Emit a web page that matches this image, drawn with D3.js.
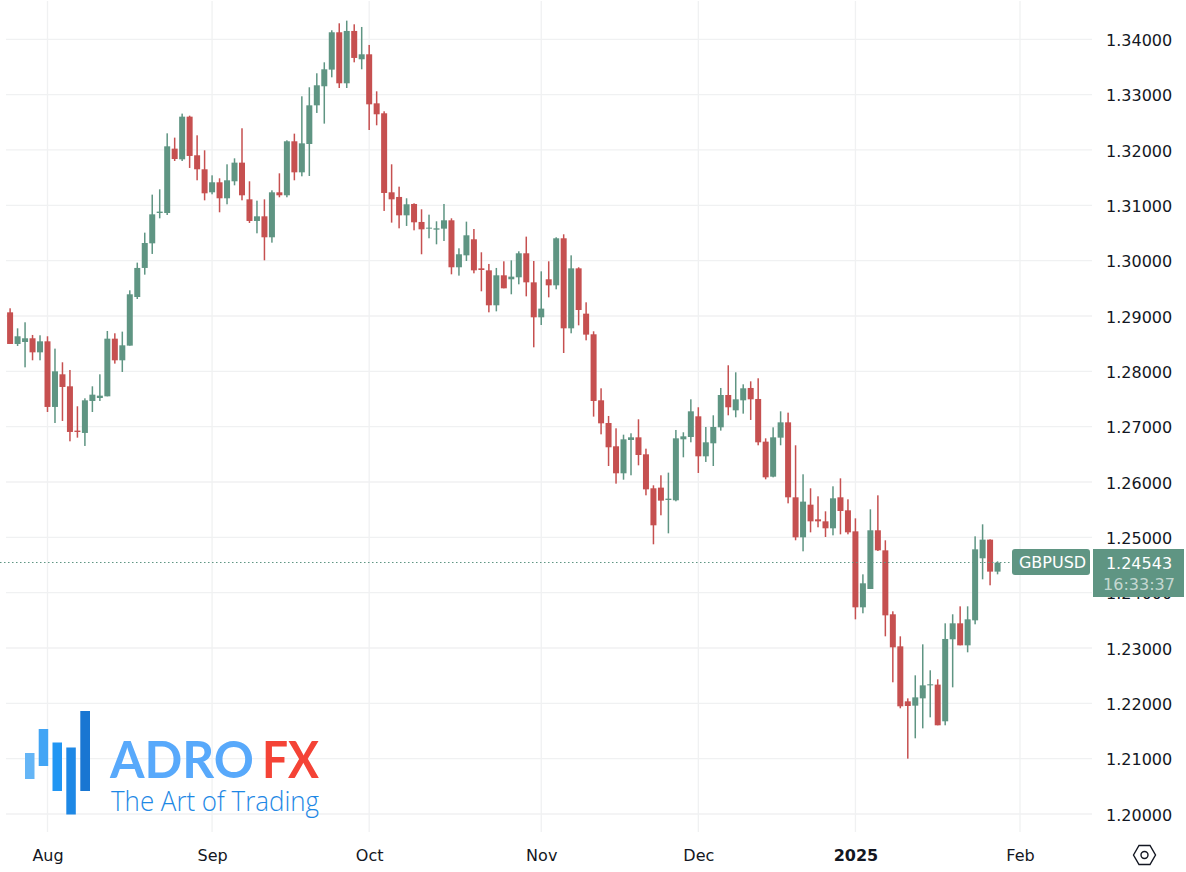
<!DOCTYPE html>
<html>
<head>
<meta charset="utf-8">
<script src="https://cdn.jsdelivr.net/npm/d3@7"></script>
<style>
  html, body { margin: 0; padding: 0; background: #fff; }
  svg { display: block; }
  .axis text { font-family: "DejaVu Sans", sans-serif; font-size: 16px; fill: #131722; }
  .axis path, .axis line { display: none; }
</style>
</head>
<body>
<svg id="chart" width="1186" height="872"></svg>
<script>
// daily GBPUSD candles
let opens = [
  1.29066, 1.28494, 1.28530, 1.28597, 1.28343, 1.28542, 1.27356, 1.27946, 1.27729, 1.26928,
  1.26886, 1.27464, 1.27518, 1.27548, 1.28590, 1.28199, 1.28464, 1.29343, 1.29868, 1.30313,
  1.30861, 1.30861, 1.32024, 1.31831, 1.32602, 1.31904, 1.31651, 1.31235, 1.31416, 1.31127,
  1.31434, 1.31771, 1.31108, 1.30717, 1.30801, 1.30422, 1.31235, 1.31181, 1.32157, 1.31596,
  1.32108, 1.32807, 1.33151, 1.33452, 1.34127, 1.33205, 1.34151, 1.33639, 1.33729, 1.32843,
  1.32663, 1.31235, 1.31151, 1.30819, 1.31024, 1.30699, 1.30578, 1.30560, 1.30578, 1.30729,
  1.29880, 1.30096, 1.30386, 1.29861, 1.29825, 1.29193, 1.29735, 1.29663, 1.29699, 1.30133,
  1.29608, 1.28976, 1.29663, 1.29554, 1.30404, 1.28777, 1.29861, 1.29042, 1.28669, 1.27476,
  1.27066, 1.26645, 1.26157, 1.26759, 1.26807, 1.26500, 1.25886, 1.25898, 1.25675, 1.25669,
  1.26771, 1.26813, 1.27187, 1.26464, 1.26699, 1.26988, 1.27572, 1.27295, 1.27476, 1.27699,
  1.27500, 1.26729, 1.26096, 1.26801, 1.27078, 1.25723, 1.25000, 1.25590, 1.25325, 1.25289,
  1.25163, 1.25723, 1.25488, 1.25108, 1.23735, 1.24066, 1.25127, 1.24765, 1.23609, 1.23030,
  1.22036, 1.21958, 1.22090, 1.22325, 1.22338, 1.21675, 1.23157, 1.23446, 1.23048, 1.23500,
  1.24621, 1.24958, 1.24380
];
let highs = [
  1.29139, 1.28777, 1.28886, 1.28657, 1.28651, 1.28633, 1.28410, 1.28163, 1.28024, 1.27368,
  1.27512, 1.27729, 1.27946, 1.28729, 1.28687, 1.28717, 1.29464, 1.29964, 1.30506, 1.31193,
  1.31289, 1.32301, 1.32223, 1.32657, 1.32620, 1.32265, 1.31994, 1.31542, 1.31488, 1.31741,
  1.31849, 1.32392, 1.31434, 1.31084, 1.31108, 1.31271, 1.31578, 1.32175, 1.32295, 1.32970,
  1.33133, 1.33386, 1.33584, 1.34163, 1.34289, 1.34337, 1.34271, 1.34223, 1.33898, 1.33060,
  1.32699, 1.31741, 1.31337, 1.31127, 1.31036, 1.30928, 1.30831, 1.30711, 1.31024, 1.30765,
  1.30223, 1.30705, 1.30572, 1.30151, 1.29940, 1.29868, 1.29988, 1.30006, 1.30169, 1.30434,
  1.29994, 1.29807, 1.29988, 1.30422, 1.30476, 1.30096, 1.29880, 1.29247, 1.28723, 1.27693,
  1.27193, 1.26970, 1.26855, 1.26880, 1.27133, 1.26602, 1.25940, 1.26121, 1.26169, 1.26940,
  1.26898, 1.27494, 1.27350, 1.26994, 1.27205, 1.27699, 1.28109, 1.27982, 1.27765, 1.27819,
  1.27874, 1.26789, 1.26988, 1.27277, 1.27253, 1.26663, 1.26139, 1.25886, 1.25741, 1.25470,
  1.25922, 1.26066, 1.25687, 1.25343, 1.24331, 1.25506, 1.25759, 1.24946, 1.23663, 1.23211,
  1.22090, 1.22506, 1.23066, 1.22597, 1.22434, 1.23446, 1.23609, 1.23753, 1.23753, 1.25018,
  1.25235, 1.24964, 1.24566
];
let lows = [
  1.28494, 1.28458, 1.28072, 1.28199, 1.28199, 1.27265, 1.27066, 1.27103, 1.26735, 1.26801,
  1.26651, 1.27265, 1.27464, 1.27548, 1.28139, 1.27988, 1.28464, 1.29307, 1.29747, 1.30121,
  1.30765, 1.30825, 1.31801, 1.31801, 1.31675, 1.31452, 1.31090, 1.31199, 1.30874, 1.31018,
  1.31361, 1.31090, 1.30681, 1.30494, 1.30006, 1.30325, 1.31145, 1.31145, 1.31452, 1.31524,
  1.31530, 1.32669, 1.32476, 1.33313, 1.33120, 1.33120, 1.33584, 1.33458, 1.32361, 1.32446,
  1.30898, 1.30687, 1.30584, 1.30627, 1.30548, 1.30115, 1.30404, 1.30295, 1.30355, 1.29753,
  1.29729, 1.29994, 1.29771, 1.29446, 1.29066, 1.29084, 1.29500, 1.29392, 1.29572, 1.29355,
  1.28434, 1.28837, 1.29337, 1.29482, 1.28331, 1.28687, 1.28831, 1.28560, 1.27181, 1.26861,
  1.26289, 1.25970, 1.26042, 1.26121, 1.26301, 1.25759, 1.24874, 1.25398, 1.25072, 1.25651,
  1.26446, 1.26717, 1.26163, 1.26362, 1.26289, 1.26928, 1.27205, 1.27169, 1.27235, 1.27121,
  1.26663, 1.26048, 1.26084, 1.26663, 1.25614, 1.24946, 1.24747, 1.25090, 1.25181, 1.25006,
  1.25036, 1.25054, 1.25054, 1.23518, 1.23627, 1.24066, 1.24753, 1.23211, 1.22380, 1.21910,
  1.21000, 1.21368, 1.21548, 1.21747, 1.21603, 1.21603, 1.22289, 1.23048, 1.22922, 1.23428,
  1.24241, 1.24133, 1.24331
];
let closes = [
  1.28494, 1.28633, 1.28597, 1.28343, 1.28542, 1.27356, 1.28000, 1.27717, 1.26904, 1.26904,
  1.27476, 1.27578, 1.27560, 1.28590, 1.28199, 1.28470, 1.29392, 1.29868, 1.30319, 1.30837,
  1.30886, 1.32066, 1.31837, 1.32602, 1.31892, 1.31651, 1.31217, 1.31416, 1.31127, 1.31452,
  1.31771, 1.31181, 1.30717, 1.30801, 1.30422, 1.31235, 1.31181, 1.32157, 1.31596, 1.32120,
  1.32807, 1.33169, 1.33458, 1.34127, 1.33205, 1.34151, 1.33663, 1.33729, 1.32825, 1.32645,
  1.31223, 1.31108, 1.30819, 1.31018, 1.30693, 1.30566, 1.30596, 1.30584, 1.30729, 1.29880,
  1.30115, 1.30458, 1.29825, 1.29831, 1.29193, 1.29735, 1.29500, 1.29711, 1.30133, 1.29608,
  1.28976, 1.29133, 1.29554, 1.30404, 1.28777, 1.29861, 1.29108, 1.28663, 1.27464, 1.27060,
  1.26627, 1.26157, 1.26771, 1.26807, 1.26488, 1.25867, 1.25217, 1.25663, 1.25699, 1.26789,
  1.26825, 1.27277, 1.26464, 1.26717, 1.26994, 1.27572, 1.27350, 1.27494, 1.27693, 1.27494,
  1.26717, 1.26084, 1.26807, 1.27078, 1.25723, 1.25000, 1.25645, 1.25289, 1.25289, 1.25163,
  1.25705, 1.25476, 1.25090, 1.23735, 1.24169, 1.25127, 1.24765, 1.23590, 1.23012, 1.21946,
  1.21952, 1.22108, 1.22325, 1.22344, 1.21603, 1.23163, 1.23446, 1.23048, 1.23518, 1.24783,
  1.24958, 1.24380, 1.24543
];

let price_ticks = [1.2, 1.21, 1.22, 1.23, 1.24, 1.25, 1.26, 1.27, 1.28, 1.29, 1.3, 1.31, 1.32, 1.33, 1.34];
let month_labels = ["Aug", "Sep", "Oct", "Nov", "Dec", "2025", "Feb"];
let month_bars = [5, 27, 48, 71, 92, 113, 135]; // bar number where each month starts
let symbol = "GBPUSD";
let last_price = 1.24543;
let countdown = "16:33:37";

let up_color = "#5f9583";
let down_color = "#c65050";
let grid_color = "#f0f1f2";

let svg = d3.select("#chart");

let x = d3.scaleLinear().domain([5, 135]).range([47.5, 1020]);
let y = d3.scaleLinear().domain([1.2, 1.34]).range([814, 39.3]);

// grid
let grid = svg.append("g").attr("stroke", grid_color).attr("stroke-width", 1.3);
grid
  .selectAll(".h")
  .data(price_ticks)
  .enter()
  .append("line")
  .attr("x1", 6)
  .attr("x2", 1092)
  .attr("y1", (d) => y(d))
  .attr("y2", (d) => y(d));
grid
  .selectAll(".v")
  .data(month_bars)
  .enter()
  .append("line")
  .attr("x1", (d) => x(d))
  .attr("x2", (d) => x(d))
  .attr("y1", 1)
  .attr("y2", 832);

// logo sits under the candles
let logo = svg.append("g");
let logo_bars = [
  [25, 753, 9.5, 26, "#64b5f6"],
  [38.7, 729, 9.5, 37, "#42a5f5"],
  [52.5, 742.5, 9.5, 48.5, "#2196f3"],
  [66.3, 747.5, 9.5, 67, "#1e88e5"],
  [80.3, 711, 9.7, 80, "#1976d2"],
];
logo
  .selectAll("rect")
  .data(logo_bars)
  .enter()
  .append("rect")
  .attr("x", (d) => d[0])
  .attr("y", (d) => d[1])
  .attr("width", (d) => d[2])
  .attr("height", (d) => d[3])
  .attr("fill", (d) => d[4]);
logo
  .append("text")
  .attr("x", 110)
  .attr("y", 778)
  .attr("textLength", 144)
  .attr("lengthAdjust", "spacingAndGlyphs")
  .style("font-family", "Lato, sans-serif")
  .style("font-weight", 700)
  .style("font-size", "52px")
  .attr("fill", "#58a9fb")
  .text("ADRO");
logo
  .append("text")
  .attr("x", 262)
  .attr("y", 778)
  .attr("textLength", 57)
  .attr("lengthAdjust", "spacingAndGlyphs")
  .style("font-family", "Lato, sans-serif")
  .style("font-weight", 700)
  .style("font-size", "52px")
  .attr("fill", "#f44336")
  .text("FX");
logo
  .append("text")
  .attr("x", 111)
  .attr("y", 811)
  .attr("textLength", 208)
  .attr("lengthAdjust", "spacingAndGlyphs")
  .style("font-family", "'Open Sans', sans-serif")
  .style("font-weight", 300)
  .style("font-size", "27px")
  .attr("fill", "#1e88e5")
  .text("The Art of Trading");

// candles
let candles = svg
  .append("g")
  .selectAll("g")
  .data(opens.map((d, i) => i))
  .enter()
  .append("g")
  .attr("fill", (i) => (closes[i] >= opens[i] ? up_color : down_color));

candles
  .append("rect")
  .attr("x", (i) => x(i) - 0.75)
  .attr("width", 1.5)
  .attr("y", (i) => y(highs[i]))
  .attr("height", (i) => y(lows[i]) - y(highs[i]));

candles
  .append("rect")
  .attr("x", (i) => x(i) - 3)
  .attr("width", 6)
  .attr("y", (i) => y(Math.max(opens[i], closes[i])))
  .attr("height", (i) => Math.max(1, Math.abs(y(opens[i]) - y(closes[i]))));

// last price line
svg
  .append("line")
  .attr("x1", 0)
  .attr("x2", 1012)
  .attr("y1", Math.floor(y(last_price)) + 0.5)
  .attr("y2", Math.floor(y(last_price)) + 0.5)
  .attr("stroke", up_color)
  .attr("stroke-width", 1.2)
  .attr("stroke-dasharray", "1.5 2.5");

// axes
svg
  .append("g")
  .attr("class", "axis")
  .attr("transform", "translate(1106,1)")
  .call(d3.axisRight(y).tickValues(price_ticks).tickFormat(d3.format(".5f")).tickSize(0).tickPadding(0));

let month_axis = d3
  .axisBottom(x)
  .tickValues(month_bars)
  .tickFormat((d, i) => month_labels[i])
  .tickSize(0)
  .tickPadding(0);
svg
  .append("g")
  .attr("class", "axis")
  .attr("transform", "translate(0,849.5)")
  .call(month_axis)
  .selectAll("text")
  .style("font-weight", (d, i) => (month_labels[i] === "2025" ? 700 : 400));

// symbol and price labels
svg
  .append("rect")
  .attr("x", 1012)
  .attr("y", 549)
  .attr("width", 78)
  .attr("height", 26)
  .attr("rx", 3)
  .attr("fill", up_color);
svg
  .append("text")
  .attr("x", 1052.5)
  .attr("y", 568)
  .attr("text-anchor", "middle")
  .attr("fill", "#fff")
  .style("font-family", "'DejaVu Sans', sans-serif")
  .style("font-size", "16px")
  .text(symbol);
svg
  .append("rect")
  .attr("x", 1093)
  .attr("y", 549)
  .attr("width", 91)
  .attr("height", 48)
  .attr("fill", up_color);
svg
  .append("text")
  .attr("x", 1139)
  .attr("y", 568.5)
  .attr("text-anchor", "middle")
  .attr("fill", "#fff")
  .style("font-family", "'DejaVu Sans', sans-serif")
  .style("font-size", "16px")
  .text(d3.format(".5f")(last_price));
svg
  .append("text")
  .attr("x", 1139)
  .attr("y", 590)
  .attr("text-anchor", "middle")
  .attr("fill", "#fff")
  .attr("fill-opacity", 0.65)
  .style("font-family", "'DejaVu Sans', sans-serif")
  .style("font-size", "16px")
  .text(countdown);

// settings icon
let icon = svg
  .append("g")
  .attr("transform", "translate(1144.5,855)")
  .attr("fill", "none")
  .attr("stroke", "#131722")
  .attr("stroke-width", 1.4);
icon.append("path").attr("d", "M-11,0L-5.5,-9.5H5.5L11,0L5.5,9.5H-5.5Z");
icon.append("circle").attr("r", 3.5);
</script>
</body>
</html>
